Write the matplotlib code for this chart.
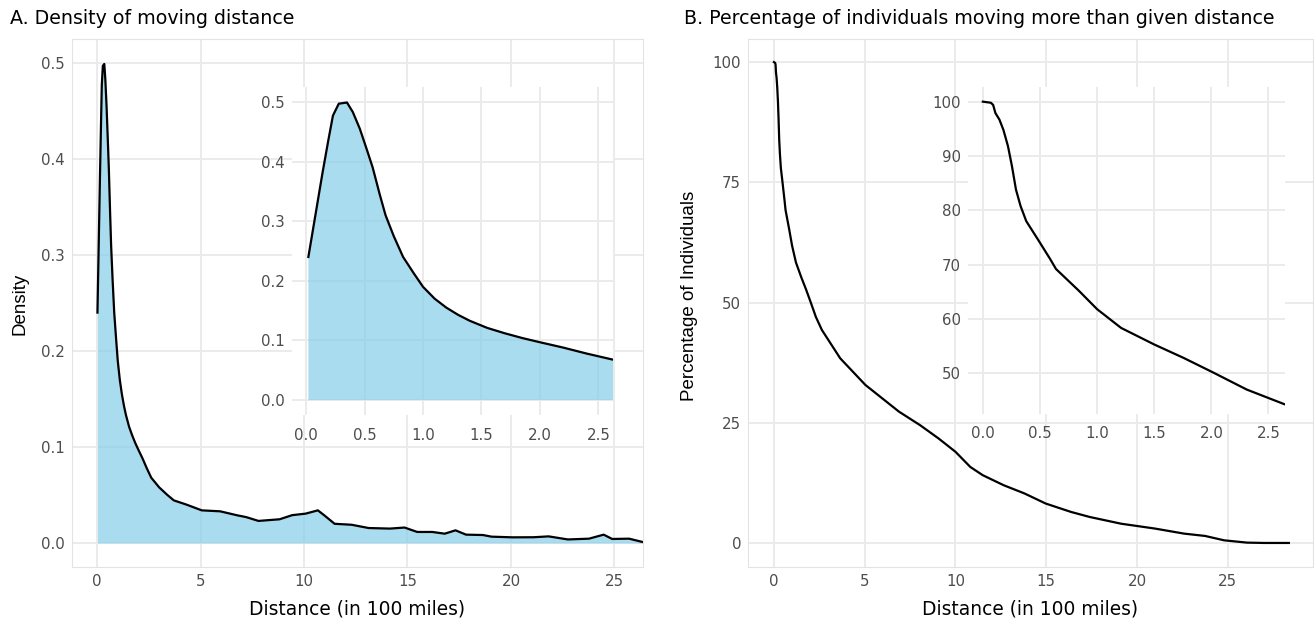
import numpy as np
import matplotlib
matplotlib.use("Agg")
import matplotlib.pyplot as plt

plt.rcParams['font.family'] = ['DejaVu Sans']

# density of moving distance (distance in 100 miles, density)
dens_x = [0.02, 0.08, 0.14, 0.19, 0.23, 0.28, 0.35, 0.40, 0.46, 0.52, 0.57, 0.63,
          0.68, 0.75, 0.83, 0.92, 1.0, 1.1, 1.2, 1.3, 1.4, 1.55, 1.7, 1.85, 2.0,
          2.2, 2.4, 2.62, 3.0, 3.4, 3.71, 4.32, 5.06, 5.95, 6.78, 7.2, 7.8, 8.82,
          9.43, 10.08, 10.67, 10.97, 11.48, 12.3, 13.12, 14.15, 14.86, 15.47, 16.2,
          16.8, 17.32, 17.83, 18.65, 19.06, 20.08, 21.1, 21.82, 22.75, 23.77,
          24.48, 24.89, 25.71, 26.37]
dens_y = [0.24, 0.31, 0.38, 0.435, 0.477, 0.497, 0.499, 0.483, 0.455, 0.42, 0.39, 0.345,
          0.31, 0.275, 0.24, 0.213, 0.19, 0.17, 0.155, 0.143, 0.133, 0.121, 0.112, 0.104,
          0.097, 0.088, 0.078, 0.068, 0.058, 0.05, 0.0444, 0.040, 0.034, 0.033, 0.0288,
          0.027, 0.023, 0.0247, 0.029, 0.0306, 0.034, 0.029, 0.020, 0.019, 0.0156, 0.015,
          0.0161, 0.0115, 0.0115, 0.0097, 0.0132, 0.0087, 0.0083, 0.0066, 0.0059, 0.006,
          0.0069, 0.0037, 0.0045, 0.0087, 0.0042, 0.0045, 0.001]

# percentage of individuals moving more than given distance
pct_x = [0.0, 0.07, 0.09, 0.11, 0.145, 0.18, 0.22, 0.255, 0.29, 0.33, 0.38, 0.48, 0.59,
         0.64, 0.84, 1.0, 1.21, 1.5, 1.76, 2.02, 2.31, 2.64, 3.65, 5.04, 6.89, 8.05,
         9.08, 10.0, 10.82, 11.5, 12.66, 13.8, 14.97, 16.36, 17.4, 19.13, 20.98, 22.6,
         23.75, 24.8, 26.06, 27.0, 28.37]
pct_y = [100, 99.8, 99.4, 97.9, 96.7, 94.8, 91.8, 88.1, 83.8, 80.8, 78.0, 74.7, 71.0,
         69.2, 65.2, 61.8, 58.35, 55.3, 52.8, 50.1, 47.0, 44.3, 38.4, 32.85, 27.3, 24.5,
         21.7, 18.96, 15.8, 14.1, 12.0, 10.3, 8.2, 6.46, 5.4, 4.0, 3.0, 1.94, 1.46, 0.55,
         0.07, 0.0, 0.0]

main_xticks = [0, 5, 10, 15, 20, 25]
inset_xticks = [0.0, 0.5, 1.0, 1.5, 2.0, 2.5]
dens_yticks = [0.0, 0.1, 0.2, 0.3, 0.4, 0.5]
pct_yticks = [0, 25, 50, 75, 100]
pct_inset_yticks = [50, 60, 70, 80, 90, 100]

W, H = 1314, 624
fig = plt.figure(figsize=(W / 100, H / 100), dpi=100)

GRID = '#EBEBEB'
TXT = '#4D4D4D'
TICK_FS = 10.8
LAB_FS = 13.4
TITLE_FS = 13.7


def rect(x0, y0, x1, y1):
    # pixel box -> figure fraction
    return [x0 / W, 1 - y1 / H, (x1 - x0) / W, (y1 - y0) / H]


def style(ax, spines=True):
    ax.grid(True, color=GRID, lw=1.4)
    ax.set_axisbelow(True)
    ax.tick_params(length=0, labelsize=TICK_FS, labelcolor=TXT, pad=5)
    for s in ax.spines.values():
        s.set_visible(spines)
        s.set_color('#E3E3E3')
        s.set_linewidth(0.8)


# A. main
axA = fig.add_axes(rect(72, 39, 643, 567))
axA.fill_between(dens_x, dens_y, color='skyblue', alpha=0.7, lw=0)
axA.plot(dens_x, dens_y, color='black', lw=1.6)
axA.set_xlim(-1.21, 26.38)
axA.set_ylim(-0.025, 0.525)
axA.set_xticks(main_xticks)
axA.set_yticks(dens_yticks)
axA.set_yticklabels([f'{v:.1f}' for v in dens_yticks])
style(axA)
axA.set_xlabel('Distance (in 100 miles)', fontsize=LAB_FS, labelpad=7.5)

# A. inset
axAi = fig.add_axes(rect(292, 87, 613, 415))
axAi.set_facecolor('white')
axAi.fill_between(dens_x, dens_y, color='skyblue', alpha=0.7, lw=0)
axAi.plot(dens_x, dens_y, color='black', lw=1.6)
axAi.set_xlim(-0.12, 2.625)
axAi.set_ylim(-0.025, 0.525)
axAi.set_xticks(inset_xticks)
axAi.set_xticklabels([f'{v:.1f}' for v in inset_xticks])
axAi.set_yticks(dens_yticks)
axAi.set_yticklabels([f'{v:.1f}' for v in dens_yticks])
style(axAi, spines=False)
axAi.tick_params(axis='x', pad=9)

# B. main
axB = fig.add_axes(rect(748, 39, 1313, 567))
axB.plot(pct_x, pct_y, color='black', lw=1.6)
axB.set_xlim(-1.43, 29.7)
axB.set_ylim(-5, 104.8)
axB.set_xticks(main_xticks)
axB.set_yticks(pct_yticks)
style(axB)
axB.set_xlabel('Distance (in 100 miles)', fontsize=LAB_FS, labelpad=7.5)

# B. inset
axBi = fig.add_axes(rect(968, 87, 1285, 414))
axBi.set_facecolor('white')
axBi.plot(pct_x, pct_y, color='black', lw=1.6)
axBi.set_xlim(-0.13, 2.645)
axBi.set_ylim(42.5, 102.7)
axBi.set_xticks(inset_xticks)
axBi.set_xticklabels([f'{v:.1f}' for v in inset_xticks])
axBi.set_yticks(pct_inset_yticks)
style(axBi, spines=False)
axBi.tick_params(axis='x', pad=9)

# titles and y labels
fig.text(10 / W, 1 - 18 / H, 'A. Density of moving distance', fontsize=TITLE_FS,
         ha='left', va='center')
fig.text(684 / W, 1 - 18 / H, 'B. Percentage of individuals moving more than given distance',
         fontsize=TITLE_FS, ha='left', va='center')
fig.text(20 / W, 1 - 304 / H, 'Density', fontsize=13.5, rotation=90,
         ha='center', va='center', family='Liberation Sans')
fig.text(690 / W, 1 - 296 / H, 'Percentage of Individuals', fontsize=13.5, rotation=90,
         ha='center', va='center', family='Liberation Sans')

fig.savefig('out.png', dpi=100, facecolor='white')
